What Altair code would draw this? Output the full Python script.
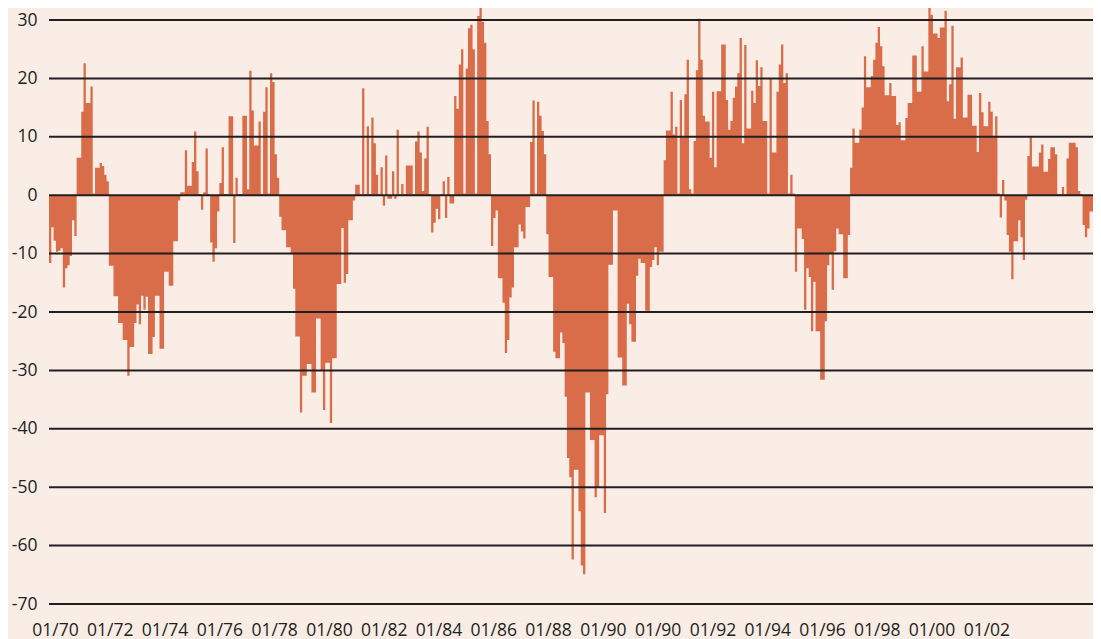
import json
import altair as alt
import pandas as pd

BG = "#FAEDE6"
BAR = "#D96D4A"
INK = "#231F20"

# Monthly readings (percent) in order, left to right
seg_a = [-11.6, -5.5, -7.8, -9.7, -9.5, -9.1, -15.8, -12.5, -12.0, -10.4, -4.3, -7.0]
seg_b = [6.4, 6.4, 14.3, 22.6, 15.8, 15.8, 18.6, 0.3, 4.7, 4.7, 5.5, 5.0, 3.5, 2.4]
seg_c1 = [-12.1, -12.1, -17.3, -17.3, -21.9, -21.9, -24.8, -24.8, -30.9, -26.0, -26.0,
          -21.9, -18.7, -22.1, -17.2]
seg_c2 = [-19.6, -17.4, -27.2, -27.2, -24.3, -17.2, -17.2, -26.3, -26.3, -13.1, -13.1,
          -15.5, -15.5, -7.9, -7.9, -0.9]
seg_d = [0.5, 0.5, 7.7, 1.6, 1.6, 5.7, 10.9, 4.1]
seg_e = [0.2, -2.5, 0.5, 8.0, 0.2, -8.1, -11.4, -9.1, -2.8, 2.1, 8.2, 0.2, 0.2, 13.5, 13.5, -8.2]
seg_f = [3.0, 0.2, 0.2, 13.6, 13.6, 1.0, 21.3, 14.5, 8.5, 8.5, 12.6, 0.2, 14.3, 18.5, 0.3,
         20.9, 19.4, 7.0, 3.0]
seg_g = [-3.7, -6.0, -6.0, -8.9, -8.9, -10.1, -16.0, -24.2, -24.2, -37.2, -30.9, -30.9,
         -28.9, -28.9, -33.8, -33.8, -21.1, -21.1, -30.1, -36.8, -28.7, -28.7, -39.0]
seg_h = [-27.9, -27.9, -15.2, -15.2, -5.6, -15.0, -13.5, -4.3, -4.3, -0.9]
seg_i = [1.8, 1.8, 0.2, 18.3, 0.2, 11.8, 0.2, 13.3, 8.9, 3.5, 0.2, 4.8, -1.8, 6.8, -0.6,
         -0.6, 4.1, -0.6, 11.2, 0.2, 1.9, 0.2, 5.1, 5.1, 5.1, 0.2, 9.2, 10.9, 7.3, 0.7, 6.3]
seg_j = [11.7, 0.2, -6.4, -4.7, -2.3, -4.1, 0.2, 2.4, -3.9, 3.1, -1.4, -1.4]
seg_k = [17.0, 14.8, 22.4, 25.0, 0.3, 21.7, 28.6, 29.2, 25.0, 0.3, 30.7, 34.0, 29.7, 26.1,
         12.7, 7.0]
seg_l = [-8.7, -3.9, -2.6, -14.2, -14.2, -18.4, -27.0, -24.8, -17.5, -15.8, -8.9, -8.9,
         -5.0, -6.2, -7.4, -2.0, -2.0]
seg_m = [9.1, 16.2, 0.3, 16.0, 13.6, 11.0, 7.0]
seg_n = [-6.7, -14.0, -14.0, -26.8, -27.9, -27.9, -23.5, -25.3, -34.5, -45.0, -48.3, -62.4,
         -47.0, -47.0, -54.1, -63.4, -64.9, -33.8, -33.8, -41.9, -41.9, -51.7, -50.0, -41.1,
         -41.1, -54.4, -34.1, -11.9, -11.9, -2.6, -2.6]
seg_o = [-27.8, -27.8, -32.6, -32.6, -18.6, -22.1, -25.1, -25.1, -13.8, -10.9, -11.6, -11.6,
         -19.8, -19.8, -12.3, -11.1, -8.9, -12.0, -9.7, -9.7]
seg_p = [6.0, 11.1, 11.1, 17.7, 10.4, 11.7, 0.3, 16.3, 9.9, 17.3, 23.2, 1.0, 0.3, 9.3, 21.4,
         30.2, 23.2, 13.6, 12.6, 12.6, 6.4]
seg_q = [17.7, 4.8, 17.8, 17.8, 25.8, 25.8, 16.3, 11.2, 12.7, 16.7, 18.6, 20.9, 26.9, 8.9,
         25.7, 11.4, 11.4, 17.9, 15.8, 23.1, 18.7, 21.9, 12.7, 12.7, 0.3, 19.9, 7.3, 7.3,
         17.7, 22.4, 25.8, 19.2, 20.9, 0.3, 3.5, 0.3]
seg_r = [-13.1, -5.7, -5.7, -7.5, -19.6, -12.5, -14.0, -23.3, -14.8, -23.3, -23.3, -31.6,
         -31.6, -21.6, -12.0, -9.9, -16.2, -9.6, -5.7, -6.7, -6.7, -14.2, -14.2, -6.8]
seg_s = [4.7, 11.4, 9.0, 9.0, 11.2, 15.0, 23.8, 18.5, 18.5, 20.4, 23.2, 26.1, 28.8, 25.5,
         22.1, 17.1, 17.1, 19.2, 17.0, 17.0, 12.0, 12.5]
seg_t = [9.4, 9.4, 13.2, 15.8, 15.8, 23.9, 23.9, 17.7, 17.7, 25.5, 21.2, 21.2, 33.5, 30.9,
         27.7, 27.7, 26.9, 28.7, 28.7, 31.6, 16.1, 19.0, 29.0, 13.1, 21.9, 21.9, 23.6, 13.3,
         13.3, 17.2, 17.2, 11.9, 11.9, 7.4, 17.5, 14.2, 11.8, 11.8, 16.0, 14.3, 10.2]
seg_u = [13.5, 0.3, -3.8, 2.6, -0.9, -6.8, -9.7, -14.4, -7.9, -7.9, -4.3, -7.2, -11.1, -0.8,
         6.7, 10.0, 4.9, 4.9, 4.9, 7.3, 8.7, 4.0, 4.0, 6.2, 8.2, 8.2, 7.0, 0.2, 0.2, 1.4, 0.2,
         6.3, 9.0, 9.0, 9.0, 8.2, 0.7, 0.2, -5.1, -7.2, -5.7, -2.8, -2.8, -5.7, -3.7, -2.0]

y_ticks = [30, 20, 10, 0, -10, -20, -30, -40, -50, -60, -70]
x_labels = ["01/70", "01/72", "01/74", "01/76", "01/78", "01/80", "01/82", "01/84", "01/86",
            "01/88", "01/90", "01/90", "01/92", "01/94", "01/96", "01/98", "01/00", "01/02"]

values = (seg_a + seg_b + seg_c1 + seg_c2 + seg_d + seg_e + seg_f + seg_g + seg_h + seg_i
          + seg_j + seg_k + seg_l + seg_m + seg_n + seg_o + seg_p + seg_q + seg_r + seg_s
          + seg_t + seg_u)
n = len(values)
# step-after area: one point per month plus a closing point at the right end
df = pd.DataFrame({"i": list(range(n + 1)), "v": values + [values[-1]]})

PLOT_W = 1044
PLOT_H = 592
PX_PER_MONTH = 1052 / n
x_max = PLOT_W / PX_PER_MONTH
Y_TOP = 30 + 8 / 5.84

TICK0, TICKSTEP = 2.6, 23.8
tick_pos = [TICK0 + TICKSTEP * k for k in range(len(x_labels))]
label_expr = f"{json.dumps(x_labels)}[round((datum.value - {TICK0}) / {TICKSTEP})]"

y_axis = alt.Axis(values=y_ticks, labelExpr="datum.value + ''", ticks=False, domain=False,
                  grid=False, title=None, labelFont="Open Sans", labelFontSize=17.5,
                  labelColor=INK, labelPadding=12)
y_scale = alt.Scale(domain=[-70, Y_TOP], nice=False, zero=False)

bars = alt.Chart(df).mark_area(color=BAR, interpolate="step-after", clip=False).encode(
    x=alt.X("i:Q", scale=alt.Scale(domain=[0, x_max], nice=False, zero=False),
            axis=alt.Axis(values=tick_pos, labelExpr=label_expr, ticks=False, domain=False,
                          grid=False, title=None, labelFont="Open Sans", labelFontSize=17.5,
                          labelColor=INK, labelPadding=17, labelFlush=False,
                          labelOverlap=False)),
    y=alt.Y("v:Q", scale=y_scale, axis=y_axis),
    y2=alt.datum(0),
)

grid = alt.Chart(pd.DataFrame({"g": y_ticks})).mark_rule(color=INK, strokeWidth=2).encode(
    y=alt.Y("g:Q", scale=y_scale, axis=y_axis)
)

chart = alt.layer(bars, grid).properties(
    width=PLOT_W, height=PLOT_H,
    padding={"left": 41, "top": 4, "right": 0, "bottom": 35},
    autosize=alt.AutoSizeParams(type="none"),
    background=BG,
).configure_view(stroke=None)

chart.save("out.html", embed_options={"renderer": "svg", "actions": False})
